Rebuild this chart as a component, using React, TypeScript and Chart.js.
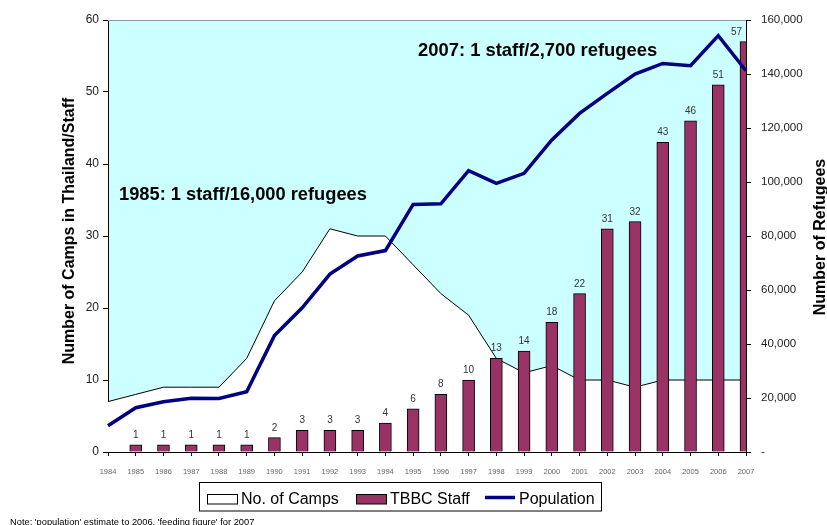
import React, { useEffect, useRef } from "react";
import { Chart, registerables } from "chart.js";

Chart.register(...registerables);

const years = [
  "1984", "1985", "1986", "1987", "1988", "1989", "1990", "1991", "1992", "1993", "1994", "1995",
  "1996", "1997", "1998", "1999", "2000", "2001", "2002", "2003", "2004", "2005", "2006", "2007",
];
const camps = [7, 8, 9, 9, 9, 13, 21, 25, 31, 30, 30, 26, 22, 19, 13, 11, 12, 10, 10, 9, 10, 10, 10, 10];
const staff = [null, 1, 1, 1, 1, 1, 2, 3, 3, 3, 4, 6, 8, 10, 13, 14, 18, 22, 31, 32, 43, 46, 51, 57];
const population = [
  9700, 16400, 18600, 19900, 19800, 22300, 43100, 53400, 65900, 72600, 74600, 91700,
  91900, 104200, 99500, 103200, 115600, 125400, 132800, 140000, 143900, 143100, 154200, 141200,
];
const leftTicks = [0, 10, 20, 30, 40, 50, 60];
const rightTicks = [0, 20000, 40000, 60000, 80000, 100000, 120000, 140000, 160000];

const leftTitle = "Number of Camps in Thailand/Staff";
const rightTitle = "Number of Refugees";
const note1 = "1985: 1 staff/16,000 refugees";
const note2 = "2007: 1 staff/2,700 refugees";
const footNote = "Note: 'population' estimate to 2006, 'feeding figure' for 2007";
const legendItems = ["No. of Camps", "TBBC Staff", "Population"];

const FONT = "'Liberation Sans', Arial, Helvetica, sans-serif";
const CYAN = "#CCFFFF";
const BAR = "#993366";
const NAVY = "#000080";

const W = 827;
const H = 525;
const AREA = { left: 108, right: 746, top: 20, bottom: 452 };

const decorPlugin = {
  id: "decor",
  beforeDraw(chart: any) {
    const { ctx, chartArea } = chart;
    ctx.save();
    ctx.fillStyle = "#ffffff";
    ctx.fillRect(0, 0, chart.width, chart.height);
    ctx.fillStyle = CYAN;
    ctx.fillRect(chartArea.left, chartArea.top, chartArea.right - chartArea.left, chartArea.bottom - chartArea.top);
    ctx.restore();
  },
  afterDatasetsDraw(chart: any) {
    const { ctx, chartArea } = chart;
    ctx.save();
    // top border of plot area
    ctx.strokeStyle = "#999999";
    ctx.lineWidth = 1;
    ctx.beginPath();
    ctx.moveTo(chartArea.left, chartArea.top + 0.5);
    ctx.lineTo(chartArea.right, chartArea.top + 0.5);
    ctx.stroke();

    // bar value labels
    const meta = chart.getDatasetMeta(1);
    ctx.font = `10px ${FONT}`;
    ctx.fillStyle = "#333333";
    ctx.textAlign = "center";
    ctx.textBaseline = "alphabetic";
    meta.data.forEach((el: any, i: number) => {
      const v = staff[i];
      if (v === null || v === undefined) return;
      const txt = String(v);
      const w = ctx.measureText(txt).width;
      let x = el.x;
      if (x + w / 2 > chartArea.right - 4) x = chartArea.right - 4 - w / 2;
      ctx.fillText(txt, x, el.y - 7);
    });

    // annotations
    ctx.font = `bold 18.3px ${FONT}`;
    ctx.fillStyle = "#000000";
    ctx.textAlign = "left";
    ctx.fillText(note1, 119, 200);
    ctx.font = `bold 18.4px ${FONT}`;
    ctx.fillText(note2, 418, 56);
    ctx.restore();
  },
  afterDraw(chart: any) {
    const { ctx } = chart;
    ctx.save();
    // axis titles
    ctx.font = `bold 16px ${FONT}`;
    ctx.fillStyle = "#000000";
    ctx.textAlign = "center";
    ctx.textBaseline = "middle";
    ctx.save();
    ctx.translate(70, 231);
    ctx.rotate(-Math.PI / 2);
    ctx.fillText(leftTitle, 0, 0);
    ctx.restore();
    ctx.save();
    ctx.translate(821, 237);
    ctx.rotate(-Math.PI / 2);
    ctx.fillText(rightTitle, 0, 0);
    ctx.restore();

    // legend
    ctx.strokeStyle = "#000000";
    ctx.lineWidth = 1;
    ctx.strokeRect(199.5, 482.5, 402, 28.5);
    ctx.font = `16px ${FONT}`;
    ctx.textAlign = "left";
    ctx.textBaseline = "alphabetic";
    const base = 504;
    ctx.fillStyle = "#ffffff";
    ctx.fillRect(207.5, 494.5, 30, 9.5);
    ctx.strokeRect(207.5, 494.5, 30, 9.5);
    ctx.fillStyle = "#000000";
    ctx.fillText(legendItems[0], 241, base);
    ctx.fillStyle = BAR;
    ctx.fillRect(356.5, 494.5, 30, 9.5);
    ctx.strokeRect(356.5, 494.5, 30, 9.5);
    ctx.fillStyle = "#000000";
    ctx.fillText(legendItems[1], 390, base);
    ctx.strokeStyle = NAVY;
    ctx.lineWidth = 3.5;
    ctx.beginPath();
    ctx.moveTo(485, 497.5);
    ctx.lineTo(515, 497.5);
    ctx.stroke();
    ctx.fillStyle = "#000000";
    ctx.fillText(legendItems[2], 519, base);

    // foot note
    ctx.font = `9.3px ${FONT}`;
    ctx.fillStyle = "#000000";
    ctx.fillText(footNote, 10, 525);
    ctx.restore();
  },
};

export default function App() {
  const ref = useRef<HTMLCanvasElement | null>(null);

  useEffect(() => {
    const canvas = ref.current;
    if (!canvas) return;
    const chart = new Chart(canvas, {
      type: "bar",
      data: {
        labels: years,
        datasets: [
          {
            type: "line",
            label: legendItems[0],
            data: camps,
            yAxisID: "y",
            borderColor: "#000000",
            borderWidth: 1,
            backgroundColor: "#ffffff",
            fill: "origin",
            pointRadius: 0,
            tension: 0,
            order: 3,
          } as any,
          {
            type: "bar",
            label: legendItems[1],
            data: staff,
            yAxisID: "y",
            backgroundColor: BAR,
            borderColor: "#000000",
            borderWidth: 1,
            barThickness: 12,
            clip: 0,
            order: 2,
          } as any,
          {
            type: "line",
            label: legendItems[2],
            data: population,
            yAxisID: "y2",
            borderColor: NAVY,
            borderWidth: 3.5,
            backgroundColor: NAVY,
            fill: false,
            pointRadius: 0,
            tension: 0,
            order: 1,
          } as any,
        ],
      },
      options: {
        responsive: false,
        animation: false,
        events: [],
        layout: { padding: { top: AREA.top, left: 0, right: 0, bottom: 0 } },
        plugins: {
          legend: { display: false },
          tooltip: { enabled: false },
          title: { display: false },
        },
        scales: {
          x: {
            type: "category",
            offset: false,
            grid: {
              offset: false,
              drawOnChartArea: false,
              drawTicks: true,
              tickLength: 4,
              color: "#000000",
            },
            border: { display: true, color: "#000000", width: 1 },
            ticks: {
              autoSkip: false,
              maxRotation: 0,
              minRotation: 0,
              padding: 11,
              color: "#666666",
              font: { family: FONT, size: 7.5 },
            },
            afterFit: (s: any) => {
              s.height = H - AREA.bottom;
            },
          },
          y: {
            type: "linear",
            position: "left",
            min: leftTicks[0],
            max: leftTicks[leftTicks.length - 1],
            afterBuildTicks: (s: any) => {
              s.ticks = leftTicks.map((v) => ({ value: v }));
            },
            grid: {
              drawOnChartArea: false,
              drawTicks: true,
              tickLength: 5,
              color: "#000000",
            },
            border: { display: true, color: "#000000", width: 1 },
            ticks: {
              padding: 4,
              color: "#222222",
              font: { family: FONT, size: 12 },
            },
            afterFit: (s: any) => {
              s.width = AREA.left;
            },
          },
          y2: {
            type: "linear",
            position: "right",
            min: rightTicks[0],
            max: rightTicks[rightTicks.length - 1],
            afterBuildTicks: (s: any) => {
              s.ticks = rightTicks.map((v) => ({ value: v }));
            },
            grid: {
              drawOnChartArea: false,
              drawTicks: true,
              tickLength: 5,
              color: "#000000",
            },
            border: { display: true, color: "#000000", width: 1 },
            ticks: {
              padding: 10,
              color: "#222222",
              font: { family: FONT, size: 11.5 },
              callback: (v: any) => (Number(v) === 0 ? "-" : Number(v).toLocaleString("en-US")),
            },
            afterFit: (s: any) => {
              s.width = W - AREA.right;
            },
          },
        },
      },
      plugins: [decorPlugin],
    });
    return () => chart.destroy();
  }, []);

  return (
    <div style={{ position: "fixed", left: 0, top: 0, width: W, height: H, background: "#ffffff" }}>
      <canvas ref={ref} width={W} height={H} style={{ display: "block", width: W, height: H }} />
    </div>
  );
}
